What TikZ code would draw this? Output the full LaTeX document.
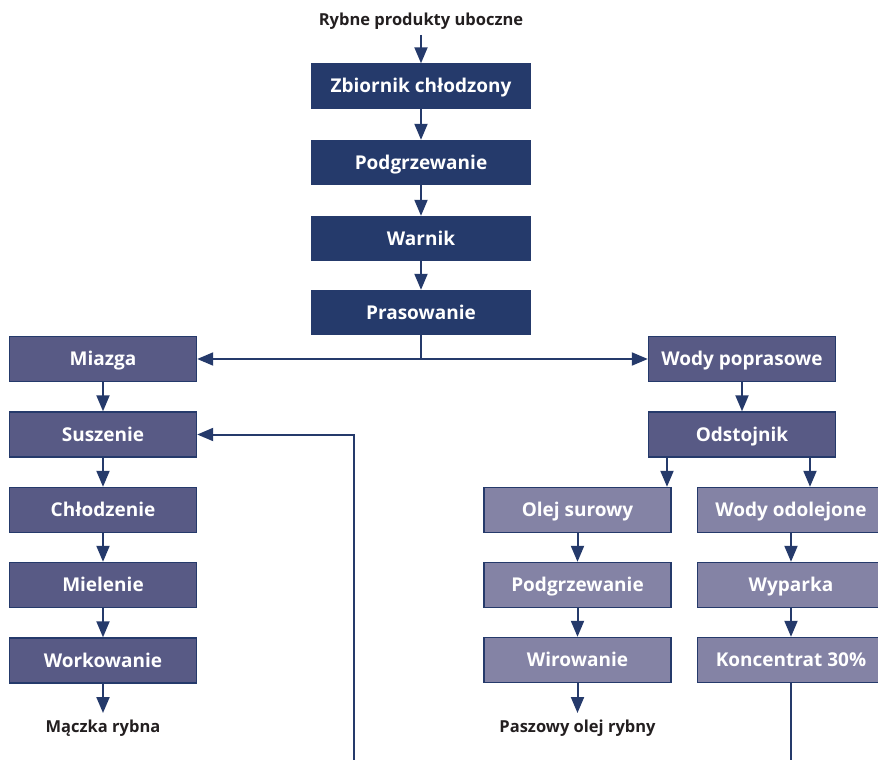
\documentclass[tikz,border=0pt]{standalone}
\usepackage{fontspec}
\setmainfont{Open Sans}
\usetikzlibrary{arrows.meta}

\definecolor{navy}{HTML}{253A6B}
\definecolor{midblue}{HTML}{585A85}
\definecolor{lightblue}{HTML}{8483A5}
\definecolor{labeltext}{HTML}{231F20}

\tikzset{
  box/.style={minimum height=45pt, inner sep=0pt, text=white,
    text height=13pt, text depth=0pt,
    font=\fontsize{19}{21}\selectfont\bfseries},
  topbox/.style={box, fill=navy, minimum width=220pt},
  midbox/.style={box, fill=midblue, draw=navy, line width=1.4pt, minimum width=187pt},
  lightbox/.style={box, fill=lightblue, draw=navy, line width=1.4pt, minimum width=187pt},
  endlabel/.style={text=labeltext, inner sep=0pt,
    font=\fontsize{16.5}{18}\selectfont\bfseries},
  flow/.style={draw=navy, line width=2pt,
    -{Triangle[width=13pt,length=16pt]}},
  plain/.style={draw=navy, line width=2pt}
}

\begin{document}
\begin{tikzpicture}[x=1pt,y=-1pt]
\useasboundingbox (0,0) rectangle (878,760);
\clip (0,0) rectangle (878,760);
\fill[white] (0,0) rectangle (878,760);

% main line
\node[endlabel] (input) at (421,21) {Rybne produkty uboczne};
\node[topbox] (tank)  at (421,86)  {Zbiornik chłodzony};
\node[topbox] (heat1) at (421,162.5) {Podgrzewanie};
\node[topbox] (cook)  at (421,238.5) {Warnik};
\node[topbox] (press) at (421,312.5) {Prasowanie};

% solids branch
\node[midbox] (pulp)  at (103,359)   {Miazga};
\node[midbox] (dry)   at (103,434.5) {Suszenie};
\node[midbox] (cool)  at (103,510)   {Chłodzenie};
\node[midbox] (mill)  at (103,585)   {Mielenie};
\node[midbox] (bag)   at (103,660.5) {Workowanie};
\node[endlabel] (meal) at (103,728)  {Mączka rybna};

% liquid branch
\node[midbox] (water) at (742,359)   {Wody poprasowe};
\node[midbox] (settle) at (742,434.5) {Odstojnik};

\node[lightbox] (oil)   at (577.5,510) {Olej surowy};
\node[lightbox] (heat2) at (577.5,585) {Podgrzewanie};
\node[lightbox] (spin)  at (577.5,660) {Wirowanie};
\node[endlabel] (feedoil) at (577.5,728) {Paszowy olej rybny};

\node[lightbox] (deoil) at (791,510) {Wody odolejone};
\node[lightbox] (evap)  at (791,585) {Wyparka};
\node[lightbox] (conc)  at (791,660) {Koncentrat 30\%};

% free ends
\coordinate (meal-in)  at (103,713);
\coordinate (oil-in)   at (577.5,713);
\coordinate (split)    at (421,359);
\coordinate (ret-low)  at (354,762);
\coordinate (ret-turn) at (354,434.5);
\coordinate (conc-low) at (791,762);

% connectors
\draw[flow] (input.south |- 0,35) -- (tank.north);
\draw[flow] (tank) -- (heat1);
\draw[flow] (heat1) -- (cook);
\draw[flow] (cook) -- (press);
\draw[plain] (press.south) -- (split);
\draw[flow] (split) -- (pulp.east);
\draw[flow] (split) -- (water.west);

\draw[flow] (pulp) -- (dry);
\draw[flow] (dry) -- (cool);
\draw[flow] (cool) -- (mill);
\draw[flow] (mill) -- (bag);
\draw[flow] (bag) -- (meal-in);

\draw[flow] (water) -- (settle);
\draw[flow] (settle.south -| 667,0) -- (oil.north -| 667,0);
\draw[flow] (settle.south -| 810,0) -- (deoil.north -| 810,0);

\draw[flow] (oil) -- (heat2);
\draw[flow] (heat2) -- (spin);
\draw[flow] (spin) -- (oil-in);

\draw[flow] (deoil) -- (evap);
\draw[flow] (evap) -- (conc);
\draw[plain] (conc.south) -- (conc-low);

\draw[flow] (ret-low) -- (ret-turn) -- (dry.east);
\end{tikzpicture}
\end{document}
